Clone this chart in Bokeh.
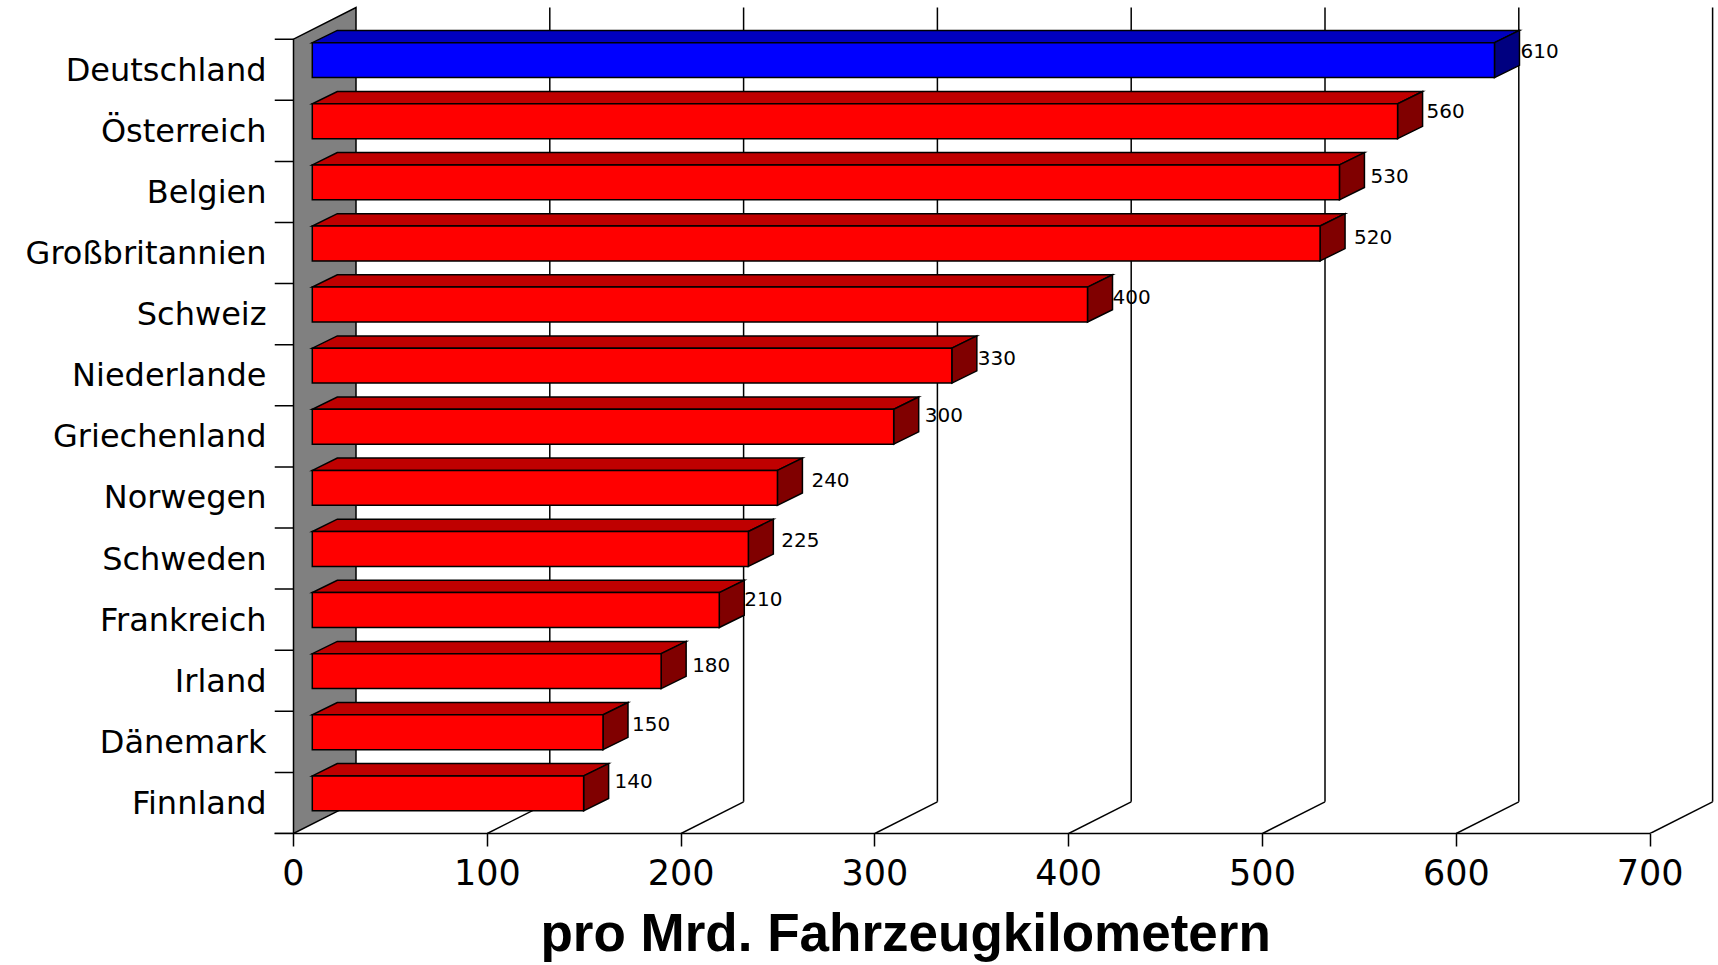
from bokeh.plotting import figure
from bokeh.models import ColumnDataSource, FixedTicker, LinearAxis, Range1d, Title
from bokeh.core.properties import value
from bokeh.embed import file_html
from bokeh.resources import INLINE

# Data, top to bottom as in the chart
categories = ["Deutschland", "Österreich", "Belgien", "Großbritannien", "Schweiz",
              "Niederlande", "Griechenland", "Norwegen", "Schweden", "Frankreich",
              "Irland", "Dänemark", "Finnland"]
values = [610, 560, 530, 520, 400, 330, 300, 240, 225, 210, 180, 150, 140]
x_ticks = [0, 100, 200, 300, 400, 500, 600, 700]
highlight = "Deutschland"
x_title = "pro Mrd. Fahrzeugkilometern"

# Placement of the value labels, in pixels from the back corner of each bar's band
label_dx = [1, 4, 6, 9, 0, 1, 6, 9, 8, 0, 6, 4, 6]
label_dy = [12, 11, 15, 14, 13, 13, 9, 13, 12, 10, 15, 13, 9]

# Geometry
W, H = 1718, 965
BORDER_LEFT = 274      # frame starts where the category ticks start
FRAME_H = 833
PX_PER_X = 1.938
PX_PER_BAND = 61.1
TICK_PX = 19
n = len(categories)

x_start = -TICK_PX / PX_PER_X
x_end = x_start + (W - BORDER_LEFT) / PX_PER_X
y_end = FRAME_H / PX_PER_BAND

WALL_DX = 62.5 / PX_PER_X
WALL_DY = 31.7 / PX_PER_BAND
BAR_DX = 25 / PX_PER_X
BAR_DY = 12.3 / PX_PER_BAND
BAR_START = 9.7
BAR_TOP_INSET = 3.5 / PX_PER_BAND
BAR_BOTTOM_INSET = 38.4 / PX_PER_BAND

p = figure(width=W, height=H, output_backend="svg", toolbar_location=None,
           x_range=Range1d(x_start, x_end), y_range=Range1d(0, y_end),
           x_axis_type=None, y_axis_type=None,
           frame_width=W - BORDER_LEFT, frame_height=FRAME_H,
           min_border_left=BORDER_LEFT, min_border_right=0, min_border_top=0,
           min_border_bottom=H - FRAME_H, outline_line_color=None)
p.grid.visible = False
p.background_fill_color = "white"
p.border_fill_color = "white"

# Axes
xaxis = LinearAxis(ticker=FixedTicker(ticks=x_ticks), bounds=(x_start, x_ticks[-1]))
xaxis.axis_line_color = "black"
xaxis.axis_line_width = 1.5
xaxis.major_tick_line_color = "black"
xaxis.major_tick_line_width = 1.5
xaxis.major_tick_out = 13
xaxis.major_tick_in = 0
xaxis.minor_tick_line_color = None
xaxis.major_label_standoff = 12
xaxis.major_label_text_font = "DejaVu Sans"
xaxis.major_label_text_font_size = "35px"
xaxis.major_label_text_color = "black"
p.add_layout(xaxis, "below")

centres = [n - i - 0.5 for i in range(n)]
yaxis = LinearAxis(ticker=FixedTicker(ticks=centres),
                   major_label_overrides={c: name for c, name in zip(centres, categories)})
yaxis.axis_line_color = None
yaxis.major_tick_line_color = None
yaxis.minor_tick_line_color = None
yaxis.major_tick_in = 0
yaxis.major_tick_out = 0
yaxis.major_label_standoff = 8
yaxis.major_label_text_font = "DejaVu Sans"
yaxis.major_label_text_font_size = "32px"
yaxis.major_label_text_color = "black"
p.add_layout(yaxis, "left")

# Side wall
p.patch([0, 0, WALL_DX, WALL_DX], [0, n, n + WALL_DY, WALL_DY],
        fill_color="#808080", line_color="black", line_width=1.5, line_join="miter")

# Category ticks on band boundaries
boundaries = list(range(n + 1))
p.segment(x0=[x_start] * (n + 1), y0=boundaries, x1=[0] * (n + 1), y1=boundaries,
          line_color="black", line_width=1.5)

# Floor diagonals and back grid lines
grid_ticks = x_ticks[1:]
p.segment(x0=grid_ticks, y0=[0] * len(grid_ticks),
          x1=[t + WALL_DX for t in grid_ticks], y1=[WALL_DY] * len(grid_ticks),
          line_color="black", line_width=1.5)
p.segment(x0=[t + WALL_DX for t in grid_ticks], y0=[WALL_DY] * len(grid_ticks),
          x1=[t + WALL_DX for t in grid_ticks], y1=[n + WALL_DY] * len(grid_ticks),
          line_color="black", line_width=1.5)

# Bars: one patch per face
front_x, front_y, top_x, top_y, side_x, side_y = [], [], [], [], [], []
front_c, top_c, side_c = [], [], []
for i, (name, v) in enumerate(zip(categories, values)):
    upper = n - i
    t = upper - BAR_TOP_INSET
    b = upper - BAR_BOTTOM_INSET
    x0 = BAR_START
    x1 = BAR_START + v
    front_x.append([x0, x1, x1, x0])
    front_y.append([b, b, t, t])
    top_x.append([x0, x1, x1 + BAR_DX, x0 + BAR_DX])
    top_y.append([t, t, t + BAR_DY, t + BAR_DY])
    side_x.append([x1, x1 + BAR_DX, x1 + BAR_DX, x1])
    side_y.append([b, b + BAR_DY, t + BAR_DY, t])
    blue = name == highlight
    front_c.append("#0000FF" if blue else "#FF0000")
    top_c.append("#0000BF" if blue else "#BF0000")
    side_c.append("#000080" if blue else "#800000")

for xs, ys, cs in ((top_x, top_y, top_c), (side_x, side_y, side_c), (front_x, front_y, front_c)):
    p.patches(xs, ys, fill_color=cs, line_color="black", line_width=1.5, line_join="miter")

# Value labels
src = ColumnDataSource(dict(
    x=[BAR_START + v + BAR_DX for v in values],
    y=[n - i for i in range(n)],
    text=[str(v) for v in values],
    dx=label_dx,
    dy=label_dy,
))
p.text(x="x", y="y", text="text", source=src, x_offset="dx", y_offset="dy",
       text_font=value("DejaVu Sans"), text_font_size="20px", text_color="black",
       text_align="left", text_baseline="middle")

# Axis title, placed under the x axis in the bottom panel
p.add_layout(Title(text=x_title, align="left", offset=266, standoff=26,
                   text_font="Liberation Sans", text_font_style="bold",
                   text_font_size="53px", text_color="black"), "below")

open("out.html", "w").write(file_html(p, INLINE))
